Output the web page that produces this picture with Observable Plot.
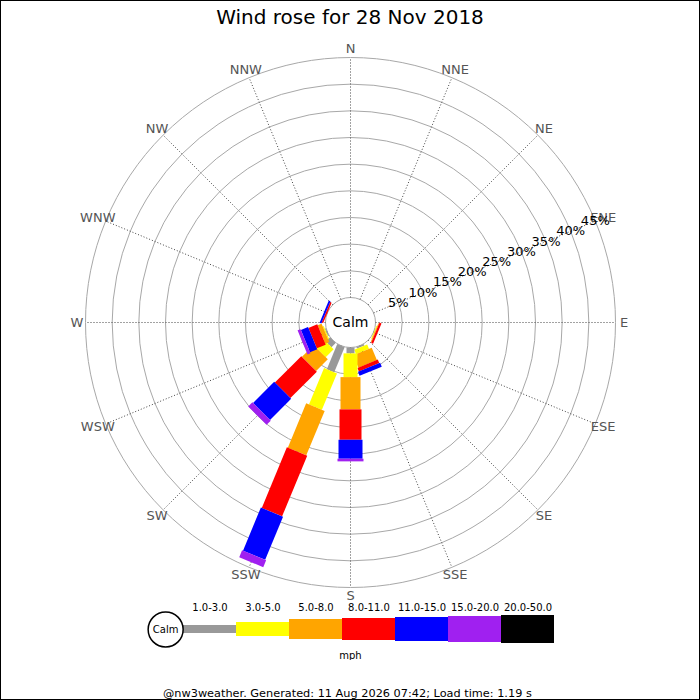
<!DOCTYPE html>
<html><head><meta charset="utf-8">
<script src="https://cdn.jsdelivr.net/npm/d3@7"></script>
<script src="https://cdn.jsdelivr.net/npm/@observablehq/plot@0.6"></script>
<style>
body{margin:0;background:#fff;}
#wrap{position:relative;width:700px;height:700px;overflow:hidden;background:#fff;font-family:"DejaVu Sans",sans-serif;}
#border{position:absolute;left:0;top:0;width:700px;height:700px;border:1px solid #000;box-sizing:border-box;pointer-events:none;}
#title{height:36px;line-height:34px;text-align:center;font-size:20px;color:#000;}
#rose svg,#legend svg{display:block;}
#footer{height:40px;box-sizing:border-box;padding-top:27px;padding-left:163px;line-height:14px;text-align:left;font-size:11.3px;color:#000;white-space:nowrap;}
</style></head>
<body>
<div id="wrap">
<div id="title">Wind rose for 28 Nov 2018</div>
<div id="rose"></div>
<div id="legend"></div>
<div id="footer">@nw3weather. Generated: 11 Aug 2026 07:42; Load time: 1.19 s</div>
<div id="border"></div>
</div>
<script>
// ---- data ----
const directions = ["N","NNE","NE","ENE","E","ESE","SE","SSE","S","SSW","SW","WSW","W","WNW","NW","NNW"];
const speedBands = ["1.0-3.0","3.0-5.0","5.0-8.0","8.0-11.0","11.0-15.0","15.0-20.0","20.0-50.0"];
const bandColors = ["#999999","#ffff00","#ffa500","#ff0000","#0000ff","#a020f0","#000000"];
const bandWidths = [8,14,20,22,24,26,28];
// percentage of the day per direction (order as directions)
const band1to3   = [0,0,0,0,0,0.05,0,0.3,1.1,5.1,1.1,0.2,0,0,0,0];
const band3to5   = [0,0,0,0,0,0.15,0,0.9,4.45,7.4,2.1,0.2,0,0,0,0];
const band5to8   = [0,0,0,0,0,0.15,0,2.5,6.05,9.0,3.1,0.8,0,0,0,0];
const band8to11  = [0,0,0,0,0,0.4,0,0.7,5.7,12.3,7.0,1.8,0,0.3,0,0];
const band11to15 = [0,0,0,0,0,0,0,0.8,3.55,8.75,5.6,1.45,0,0.35,0,0];
const band15to20 = [0,0,0,0,0,0,0,0,0.5,1.4,1.1,0.6,0,0,0,0];
const band20to50 = [0,0,0,0,0,0,0,0,0,0,0,0,0,0,0,0];
const ringValues = [5,10,15,20,25,30,35,40,45];
const unitLabel = "mph";
const calmLabel = "Calm";

// ---- geometry ----
const bandSeries = [band1to3,band3to5,band5to8,band8to11,band11to15,band15to20,band20to50];
const maxPct = 45;
const outerPx = 265, calmPx = 25;
const pxPerPct = (outerPx - calmPx) / maxPct;
const calmPct = calmPx / pxPerPct;
const W = 700, H = 562, cx = 350, cy = 286;
const rad = d => d * Math.PI / 180;
const angleOf = i => i * 360 / directions.length;
const px = (R, a) => R * Math.sin(rad(a));
const py = (R, a) => R * Math.cos(rad(a));

const rows = [];
directions.forEach((dir, i) => {
  let acc = calmPct;
  bandSeries.forEach((s, j) => {
    const v = s[i];
    if (v > 0) rows.push({dir, angle: angleOf(i), band: speedBands[j], w: bandWidths[j], r1: acc, r2: acc + v});
    acc += v;
  });
});

const rose = Plot.plot({
  width: W, height: H, margin: 0,
  style: {fontFamily: "DejaVu Sans", background: "white", overflow: "visible"},
  x: {domain: [-cx / pxPerPct, (W - cx) / pxPerPct], range: [0, W], axis: null},
  y: {domain: [-(H - cy) / pxPerPct, cy / pxPerPct], range: [H, 0], axis: null},
  r: {type: "linear", domain: [0, calmPct + maxPct], range: [0, outerPx]},
  color: {domain: speedBands, range: bandColors},
  marks: [
    Plot.dot([0, ...ringValues], {x: 0, y: 0, r: d => calmPct + d, stroke: "#a8a8a8", fill: "none", strokeWidth: 1}),
    Plot.link(directions, {
      x1: (d, i) => px(calmPct, angleOf(i)), y1: (d, i) => py(calmPct, angleOf(i)),
      x2: (d, i) => px(calmPct + maxPct, angleOf(i)), y2: (d, i) => py(calmPct + maxPct, angleOf(i)),
      stroke: "#444", strokeWidth: 1, strokeDasharray: "1,2"
    }),
    Plot.link(rows, {
      x1: d => px(d.r1, d.angle), y1: d => py(d.r1, d.angle),
      x2: d => px(d.r2, d.angle), y2: d => py(d.r2, d.angle),
      stroke: d => d.band, strokeWidth: d => d.w, strokeLinecap: "butt", strokeOpacity: 1
    }),
    Plot.text(directions, {
      x: (d, i) => px(calmPct + maxPct + 1.6, angleOf(i)), y: (d, i) => py(calmPct + maxPct + 1.6, angleOf(i)),
      text: d => d, fill: "#555", fontSize: 13
    }),
    Plot.text(ringValues, {
      x: d => px(calmPct + d, 67.5), y: d => py(calmPct + d, 67.5),
      text: d => d + "%", fill: "#000", fontSize: 13
    }),
    Plot.text([calmLabel], {x: 0, y: 0, text: d => d, fill: "#000", fontSize: 14})
  ]
});
document.getElementById("rose").appendChild(rose);

const LH = 62;
const legX = [180, 556];
const bandStep = (legX[1] - legX[0]) / speedBands.length;
const legend = Plot.plot({
  width: W, height: LH, margin: 0,
  style: {fontFamily: "DejaVu Sans", background: "white"},
  x: {type: "band", domain: speedBands, range: legX, padding: 0, axis: null},
  y: {domain: [-LH / 2, LH / 2], range: [LH, 0], axis: null},
  color: {domain: speedBands, range: bandColors},
  marks: [
    Plot.barY(speedBands, {x: d => d, y1: (d, i) => -bandWidths[i] / 2, y2: (d, i) => bandWidths[i] / 2, fill: d => d}),
    Plot.text(speedBands, {x: d => d, frameAnchor: "top", lineAnchor: "middle", dy: 9, text: d => d, fontSize: 10, fill: "#000"}),
    Plot.dot([calmLabel], {x: () => speedBands[0], dx: -(bandStep / 2 + 17.5), r: 17.5, stroke: "#000", fill: "white"}),
    Plot.text([calmLabel], {x: () => speedBands[0], dx: -(bandStep / 2 + 17.5), text: d => d, fontSize: 10, fill: "#000"}),
    Plot.text([unitLabel], {frameAnchor: "bottom", lineAnchor: "middle", dy: -5, text: d => d, fontSize: 10, fill: "#000"})
  ]
});
document.getElementById("legend").appendChild(legend);
</script>
</body></html>
